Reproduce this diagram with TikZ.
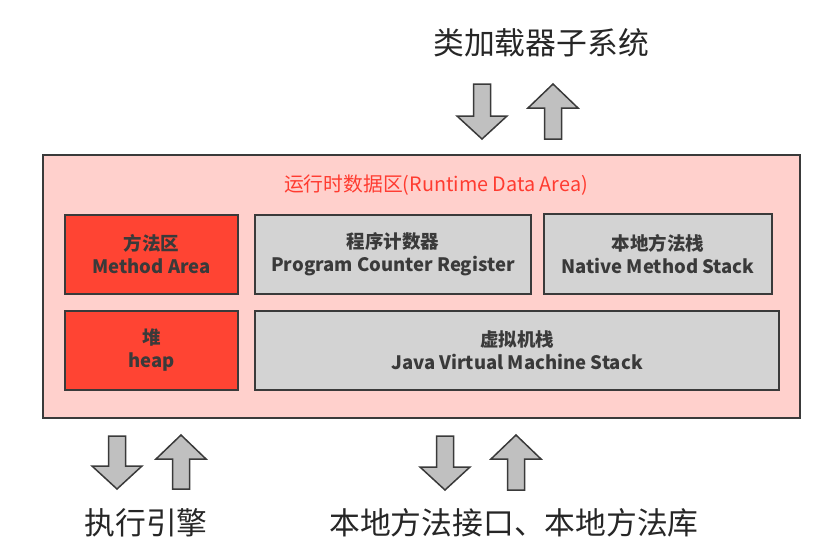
\documentclass[tikz,border=0pt]{standalone}
\usepackage{fontspec}
\setmainfont{Noto Sans CJK SC}
\definecolor{areapink}{HTML}{FFD0CC}
\definecolor{areared}{HTML}{FF4433}
\definecolor{areagray}{HTML}{D3D3D3}
\definecolor{edge}{HTML}{3A3A3A}
\definecolor{titlered}{HTML}{FF3B30}
\definecolor{arrowgray}{HTML}{C0C0C0}
\tikzset{
  region/.style={draw=edge, line width=2pt, inner sep=0pt, align=center,
    text=edge, font=\bfseries\fontsize{18.5}{23}\selectfont},
  redbox/.style={region, fill=areared},
  graybox/.style={region, fill=areagray},
  blockarrow/.style={draw=edge, fill=arrowgray, line width=1.5pt, line join=miter},
  outside/.style={font=\fontsize{30.8}{34}\selectfont, text=black!85}
}
\begin{document}
\begin{tikzpicture}[x=1pt, y=-1pt]
	\useasboundingbox (0,0) rectangle (815,541);
	\node [draw=edge, line width=1.5pt, fill=areapink, minimum width=757pt, minimum height=263pt] (rda) at (421.5,286.5) {};
	\node [text=titlered, font=\fontsize{19.8}{23}\selectfont] (title) at (436,185) {运行时数据区(Runtime Data Area)};
	\node [redbox, minimum width=173pt, minimum height=79pt] (method) at (151.5,254.5) {方法区\\Method Area};
	\node [redbox, minimum width=173pt, minimum height=79pt] (heap) at (151.5,350.5) {堆\\heap};
	\node [graybox, minimum width=276pt, minimum height=79pt] (pc) at (393,254.5) {程序计数器\\Program Counter Register};
	\node [graybox, minimum width=228pt, minimum height=80pt] (nms) at (658,254) {本地方法栈\\Native Method Stack};
	\node [graybox, minimum width=524pt, minimum height=79pt] (jvms) at (517,350.5) {虚拟机栈\\Java Virtual Machine Stack};
	\node [outside] (loader) at (541,43) {类加载器子系统};
	\node [outside] (engine) at (146,523) {执行引擎};
	\node [outside] (native) at (514,523) {本地方法接口、本地方法库};
	% down arrows
	\foreach \cx/\ty/\by in {482/84/139, 117/436/489, 445/436/490}
		\draw [blockarrow] (\cx-8.5,\ty) -- (\cx+8.5,\ty) -- (\cx+8.5,\by-23) -- (\cx+25,\by-23) -- (\cx,\by) -- (\cx-25,\by-23) -- (\cx-8.5,\by-23) -- cycle;
	% up arrows
	\foreach \cx/\ty/\by in {553/84/139, 181/435/489, 516/435/490}
		\draw [blockarrow] (\cx-8.5,\by) -- (\cx+8.5,\by) -- (\cx+8.5,\ty+24) -- (\cx+25,\ty+24) -- (\cx,\ty) -- (\cx-25,\ty+24) -- (\cx-8.5,\ty+24) -- cycle;
\end{tikzpicture}
\end{document}
